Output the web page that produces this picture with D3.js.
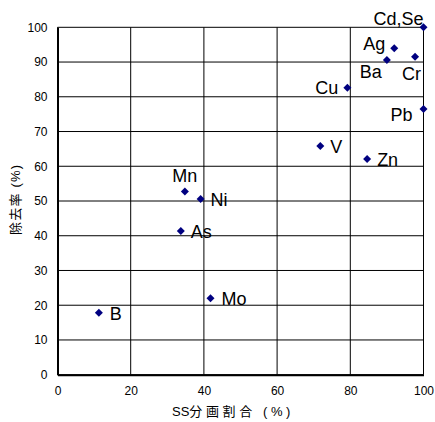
<!DOCTYPE html>
<html>
<head>
<meta charset="utf-8">
<script src="https://cdn.jsdelivr.net/npm/d3@7"></script>
<style>
  body { margin: 0; background: #fff; }
  svg { display: block; font-family: "Liberation Sans", Arial, sans-serif; }
</style>
</head>
<body>
<svg id="chart"></svg>
<script>
// Data
const elements   = ["B", "As", "Mn", "Ni", "Mo", "V", "Zn", "Cu", "Pb", "Ba", "Ag", "Cr", "Cd,Se"];
const ssFraction = [11.3, 33.7, 34.8, 39.1, 41.8, 71.8, 84.6, 79.2, 100, 90.0, 92.0, 97.7, 100];
const removal    = [17.8, 41.4, 52.7, 50.6, 22.0, 65.8, 62.1, 82.6, 76.5, 90.6, 94.0, 91.5, 100];
const xTicks = [0, 20, 40, 60, 80, 100];
const yTicks = [0, 10, 20, 30, 40, 50, 60, 70, 80, 90, 100];
const xTitle = ["SS", "分画割合 (%)"];
const yTitle = "除去率 (%)";

(function(){
    const W = 435, H = 422;
    const margin = { top: 27.3, right: 11.5, bottom: 47.3, left: 57.5 },
        width = W - margin.left - margin.right,
        height = H - margin.top - margin.bottom;

    const svg = d3.select("#chart").attr("width", W).attr("height", H);
    const g = svg.append("g").attr("transform", `translate(${margin.left},${margin.top})`);

    const x = d3.scaleLinear().domain([0, 100]).range([0, width]);
    const y = d3.scaleLinear().domain([0, 100]).range([height, 0]);

    // grid lines
    g.append("g").selectAll("line").data(yTicks).enter().append("line")
        .attr("x1", 0).attr("x2", width)
        .attr("y1", d => y(d)).attr("y2", d => y(d))
        .attr("stroke", "#000").attr("stroke-width", 1);
    g.append("g").selectAll("line").data(xTicks).enter().append("line")
        .attr("y1", 0).attr("y2", height)
        .attr("x1", d => x(d)).attr("x2", d => x(d))
        .attr("stroke", "#000").attr("stroke-width", 1);

    // axes (thicker left/bottom lines)
    const xAxis = g.append("g").attr("transform", `translate(0,${height})`)
        .call(d3.axisBottom(x).tickValues(xTicks).tickSize(0).tickPadding(12));
    const yAxis = g.append("g")
        .call(d3.axisLeft(y).tickValues(yTicks).tickSize(0).tickPadding(10));
    [xAxis, yAxis].forEach(a => {
        a.select(".domain").attr("stroke", "#000").attr("stroke-width", 2);
        a.selectAll("text").attr("font-size", 12).attr("fill", "#000")
            .attr("font-family", "'Liberation Sans', Arial, sans-serif");
    });

    // label placement relative to each marker
    const place = {
        "B":     ["start", 11, 7],
        "As":    ["start", 10, 7],
        "Mn":    ["middle", 0, -10],
        "Ni":    ["start", 10, 7],
        "Mo":    ["start", 11, 7],
        "V":     ["start", 10, 7],
        "Zn":    ["start", 10, 7.5],
        "Cu":    ["end", -9, 6.5],
        "Pb":    ["end", -11, 12],
        "Ba":    ["end", -5, 18],
        "Ag":    ["end", -9, 2],
        "Cr":    ["end", 6, 23],
        "Cd,Se": ["end", 0, -2]
    };

    const pts = elements.map((name, i) => ({ name, sx: ssFraction[i], r: removal[i] }));

    g.append("g").selectAll("path").data(pts).enter().append("path")
        .attr("d", d3.symbol(d3.symbolSquare, 32))
        .attr("transform", d => `translate(${x(d.sx)},${y(d.r)}) rotate(45)`)
        .attr("fill", "#000080");

    g.append("g").selectAll("text").data(pts).enter().append("text")
        .attr("x", d => x(d.sx) + place[d.name][1])
        .attr("y", d => y(d.r) + place[d.name][2])
        .attr("text-anchor", d => place[d.name][0])
        .attr("font-size", 18)
        .attr("fill", "#000")
        .text(d => d.name);

    // axis titles
    const xt = svg.append("text")
        .attr("x", 233).attr("y", 416)
        .attr("text-anchor", "middle")
        .attr("font-size", 13)
        .attr("font-family", "'Liberation Sans', 'Noto Sans CJK JP', sans-serif");
    xt.append("tspan").text(xTitle[0]);
    xt.append("tspan").attr("letter-spacing", 3.6).text(xTitle[1]);

    svg.append("text")
        .attr("transform", "translate(20,200) rotate(-90)")
        .attr("text-anchor", "middle")
        .attr("font-size", 13)
        .attr("font-family", "'Liberation Sans', 'Noto Sans CJK JP', sans-serif")
        .attr("textLength", 70).attr("lengthAdjust", "spacing")
        .text(yTitle);
})();
</script>
</body>
</html>
